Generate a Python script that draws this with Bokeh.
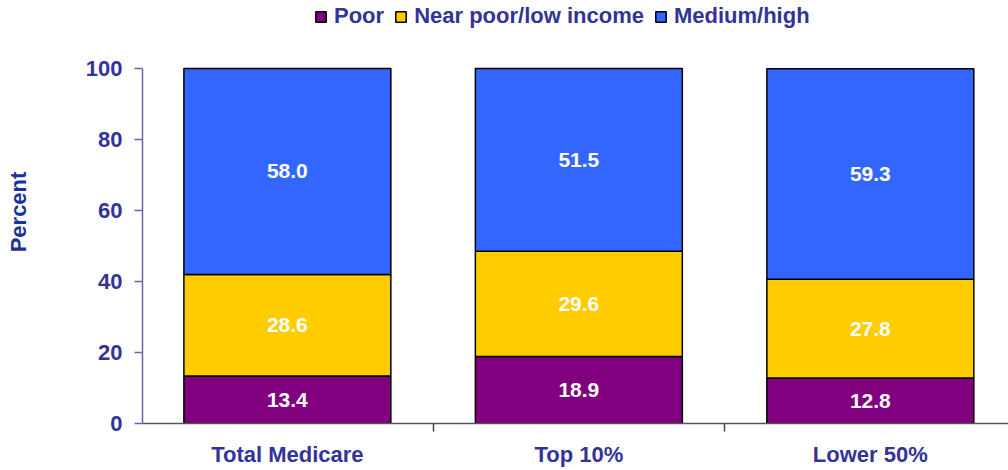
from bokeh.plotting import figure
from bokeh.models import FixedTicker, Legend, LegendItem, ColumnDataSource, Range1d
from bokeh.core.properties import value
from bokeh.embed import file_html
from bokeh.resources import INLINE

categories = ["Total Medicare", "Top 10%", "Lower 50%"]
series = ["Poor", "Near poor/low income", "Medium/high"]
poor = [13.4, 18.9, 12.8]
near_poor = [28.6, 29.6, 27.8]
medium_high = [58.0, 51.5, 59.3]
y_ticks = [0, 20, 40, 60, 80, 100]

colors = ["#800080", "#FFCC00", "#3366FF"]
FONT = "Liberation Sans"
TXT = "#333399"

xs = list(range(len(categories)))
data = dict(x=xs, poor=poor, near=near_poor, med=medium_high)
src = ColumnDataSource(data)

p = figure(width=1008, height=470, output_backend="svg", toolbar_location=None,
           x_range=Range1d(-0.497, 2.474), y_range=Range1d(0, 119.15),
           min_border_left=142, min_border_right=0, min_border_top=0, min_border_bottom=47)
p.outline_line_color = None
p.grid.visible = False
p.background_fill_color = "white"

rs = p.vbar_stack(["poor", "near", "med"], x="x", width=0.71, source=src,
                  fill_color=colors, line_color="black", line_width=1.5)

# value labels
lx, ly, lt = [], [], []
for i in xs:
    base = 0.0
    for v in (poor[i], near_poor[i], medium_high[i]):
        lx.append(i)
        ly.append(base + v / 2)
        lt.append(f"{v:.1f}")
        base += v
p.text(x=lx, y=ly, text=lt, text_color="white", text_font=value(FONT),
       text_font_style="bold", text_font_size="21px", text_align="center",
       text_baseline="middle")

# axes
xa = p.xaxis[0]
xa.ticker = FixedTicker(ticks=xs, minor_ticks=[-0.5, 0.5, 1.5, 2.5])
xa.major_label_overrides = {i: c for i, c in zip(xs, categories)}
xa.major_tick_line_color = None
xa.major_tick_out = 0
xa.minor_tick_out = 8
xa.minor_tick_in = 0
xa.minor_tick_line_color = "#444444"
xa.minor_tick_line_width = 1.5
xa.axis_line_color = "#555555"
xa.axis_line_width = 1.5
xa.major_label_text_font = FONT
xa.major_label_text_font_style = "bold"
xa.major_label_text_font_size = "22px"
xa.major_label_text_color = TXT
xa.major_label_standoff = 10

ya = p.yaxis[0]
ya.ticker = FixedTicker(ticks=y_ticks, minor_ticks=[])
ya.bounds = (0, 100)
ya.major_tick_out = 8
ya.major_tick_in = 0
ya.axis_line_color = "#6666AA"
ya.major_tick_line_color = "#6666AA"
ya.axis_line_width = 1.5
ya.major_tick_line_width = 1.5
ya.major_label_text_font = FONT
ya.major_label_text_font_style = "bold"
ya.major_label_text_font_size = "22px"
ya.major_label_text_color = TXT
ya.major_label_standoff = 12
ya.axis_label = "Percent"
ya.axis_label_text_font = FONT
ya.axis_label_text_font_style = "bold"
ya.axis_label_text_font_size = "22px"
ya.axis_label_text_color = "#1A3399"
ya.axis_label_standoff = 52

legend = Legend(items=[LegendItem(label=s, renderers=[r]) for s, r in zip(series, rs)],
                orientation="horizontal", location=(172, 394),
                border_line_color=None, background_fill_alpha=0,
                label_text_font=FONT, label_text_font_style="bold",
                label_text_font_size="22px", label_text_color=TXT,
                glyph_width=13, glyph_height=13, spacing=10, padding=2, margin=0,
                label_standoff=7, label_height=22)
p.add_layout(legend, "center")

open("out.html", "w").write(file_html(p, INLINE))
